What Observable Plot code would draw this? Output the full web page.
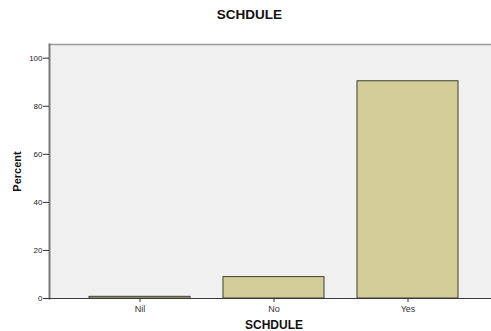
<!DOCTYPE html>
<html>
<head>
<meta charset="utf-8">
<script src="https://cdn.jsdelivr.net/npm/d3@7"></script>
<script src="https://cdn.jsdelivr.net/npm/@observablehq/plot@0.6"></script>
<style>
  html, body { margin: 0; padding: 0; background: #ffffff; overflow: hidden; width: 491px; height: 331px; position: relative; }
  #title { position: absolute; left: 0; top: 0; height: 30px; width: 499px; text-align: center; font: bold 13.5px Arial, "Liberation Sans", sans-serif; line-height: 30px; color: #111; }
  #chart { position: absolute; left: 0; top: 30px; width: 498px; }
  #chart svg { display: block; max-width: none !important; }
  svg [aria-label="x-axis label"] text { font-weight: bold; font-size: 12px; fill: #111; }
  svg [aria-label="y-axis label"] text { font-weight: bold; font-size: 11px; fill: #111; }
  svg [aria-label="x-axis tick label"] text { font-size: 9px; fill: #333; }
</style>
</head>
<body>
<div id="title">SCHDULE</div>
<div id="chart"></div>
<script>
const categories = ["Nil", "No", "Yes"];
const percents = [0.7, 8.9, 90.4];
const yTicks = [0, 20, 40, 60, 80, 100];
const chartTitle = "SCHDULE";

const data = categories.map((c, i) => ({ cat: c, pct: percents[i] }));

const chart = Plot.plot({
  width: 498,
  height: 301,
  marginLeft: 49,
  marginRight: 0,
  marginTop: 14,
  marginBottom: 33,
  style: { fontFamily: "Arial, 'Liberation Sans', sans-serif", fontSize: "8px", color: "#222", background: "transparent", overflow: "visible", maxWidth: "none" },
  x: { domain: categories, paddingInner: 0.25, paddingOuter: 0.295 },
  y: { domain: [0, 105.7] },
  marks: [
    Plot.frame({ fill: "#f0f0f0", stroke: "none" }),
    Plot.frame({ anchor: "top", stroke: "#9a9a9a", strokeWidth: 1.5 }),
    Plot.barY(data, { x: "cat", y: "pct", fill: "#d3ce97", stroke: "#3d3d33", strokeWidth: 1 }),
    Plot.frame({ anchor: "left", stroke: "#7a7a7a", strokeWidth: 2 }),
    Plot.frame({ anchor: "bottom", stroke: "#3a3a3a", strokeWidth: 1 }),
    Plot.axisY({ ticks: yTicks, tickSize: 6, tickPadding: 1, label: "Percent", labelAnchor: "center", labelOffset: 36, labelArrow: "none", stroke: "#333" }),
    Plot.axisX({ tickSize: 4, tickPadding: 3, label: chartTitle, labelAnchor: "center", labelOffset: 30, labelArrow: "none", stroke: "#333" })
  ]
});
document.getElementById("chart").appendChild(chart);
</script>
</body>
</html>
